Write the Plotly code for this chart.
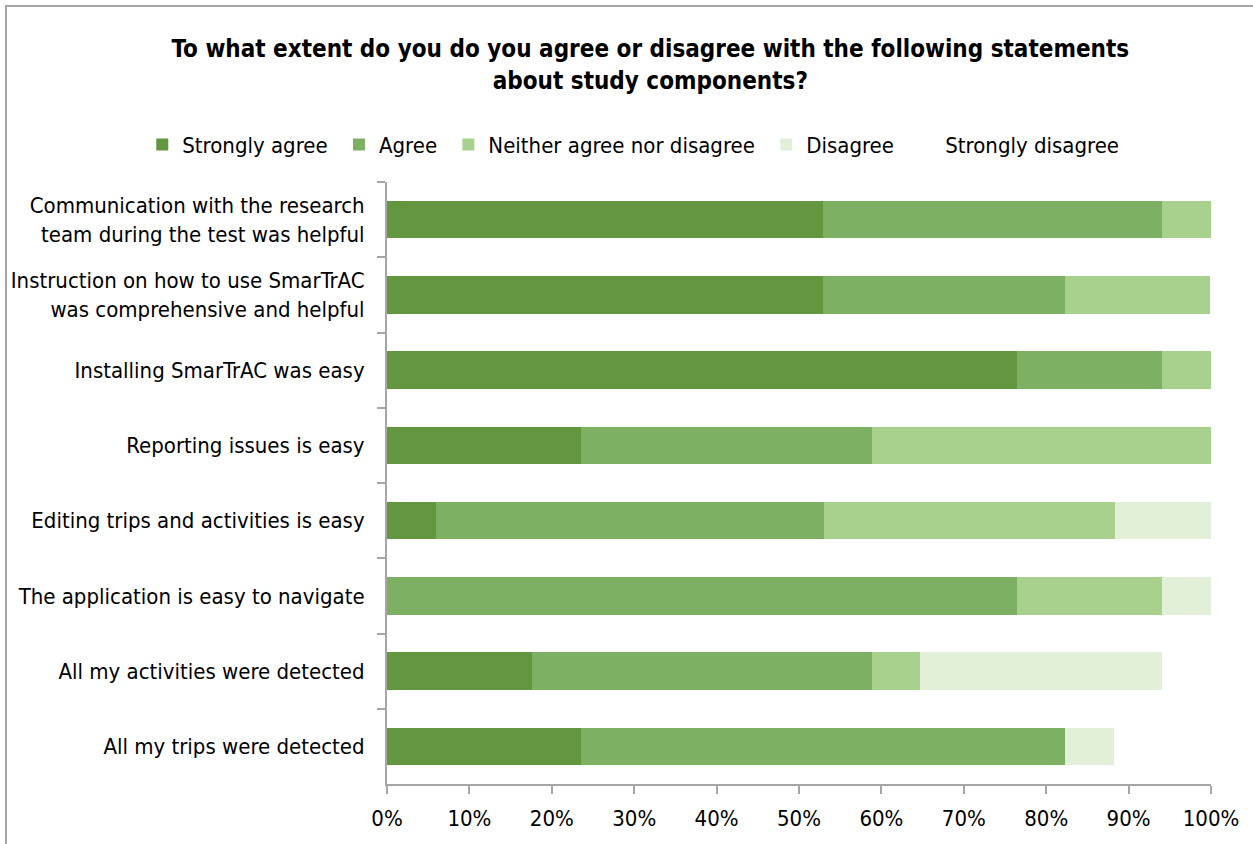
import plotly.graph_objects as go

statements = [
    "Communication with the research<br>team during the test was helpful",
    "Instruction on how to use SmarTrAC<br>was comprehensive and helpful",
    "Installing SmarTrAC was easy",
    "Reporting issues is easy",
    "Editing trips and activities is easy",
    "The application is easy to navigate",
    "All my activities were detected",
    "All my trips were detected",
]

strongly_agree = [0.529, 0.529, 0.765, 0.235, 0.059, 0.0, 0.176, 0.235]
agree = [0.412, 0.294, 0.176, 0.353, 0.471, 0.765, 0.412, 0.588]
neither = [0.059, 0.176, 0.059, 0.412, 0.353, 0.176, 0.059, 0.0]
disagree = [0.0, 0.0, 0.0, 0.0, 0.118, 0.059, 0.294, 0.059]
strongly_disagree = [0.0, 0.0, 0.0, 0.0, 0.0, 0.0, 0.059, 0.118]

series = [
    ("Strongly agree", strongly_agree, "#63963F"),
    ("Agree", agree, "#7EB064"),
    ("Neither agree nor disagree", neither, "#A9D18E"),
    ("Disagree", disagree, "#E2EFD9"),
    ("Strongly disagree", strongly_disagree, "#FFFFFF"),
]

FONT = "DejaVu Sans Condensed, Liberation Sans Narrow, Arial Narrow, sans-serif"
PAD = "\u00a0"  # extra spacing between legend entries

fig = go.Figure()
for i, (name, vals, color) in enumerate(series):
    fig.add_trace(go.Bar(
        y=statements, x=vals, orientation="h",
        name=name + (PAD if i < len(series) - 1 else ""),
        marker=dict(color=color, line=dict(width=0)),
    ))

fig.update_layout(
    barmode="stack",
    bargap=0.5,
    width=1253, height=844,
    paper_bgcolor="white", plot_bgcolor="white",
    margin=dict(l=387, r=42, t=182, b=60, autoexpand=False),
    font=dict(family=FONT, size=22, color="black"),
    title=dict(
        text="<b>To what extent do you do you agree or disagree with the following statements<br>about study components?</b>",
        x=0.519, xanchor="center", xref="container",
        y=0.932, yanchor="middle", yref="container",
        font=dict(family=FONT, size=24, color="black"),
    ),
    legend=dict(
        orientation="h", x=-0.297, xanchor="left", xref="paper",
        y=1.062, yref="paper", yanchor="middle",
        font=dict(family=FONT, size=22),
        traceorder="normal", itemwidth=30,
    ),
    showlegend=True,
)

fig.update_xaxes(
    range=[0, 1], tickformat=".0%", dtick=0.1,
    showgrid=False, zeroline=False,
    showline=True, linecolor="#A6A6A6", linewidth=2,
    ticks="outside", ticklen=8, tickcolor="#A6A6A6", tickwidth=1.5,
    tickfont=dict(family=FONT, size=22), ticklabelstandoff=6,
)
fig.update_yaxes(
    autorange="reversed", tickson="boundaries",
    showgrid=False, zeroline=False,
    showline=True, linecolor="#A6A6A6", linewidth=2,
    ticks="outside", ticklen=8, tickcolor="#A6A6A6", tickwidth=1.5,
    tickfont=dict(family=FONT, size=22), ticklabelstandoff=16,
)

# outer chart frame
fig.add_shape(
    type="rect", xref="paper", yref="paper",
    x0=-0.4624, x1=1.07, y0=-0.12, y1=1.2924,
    line=dict(color="#A6A6A6", width=2), fillcolor="rgba(0,0,0,0)",
    layer="below",
)

fig.write_html("out.html")
